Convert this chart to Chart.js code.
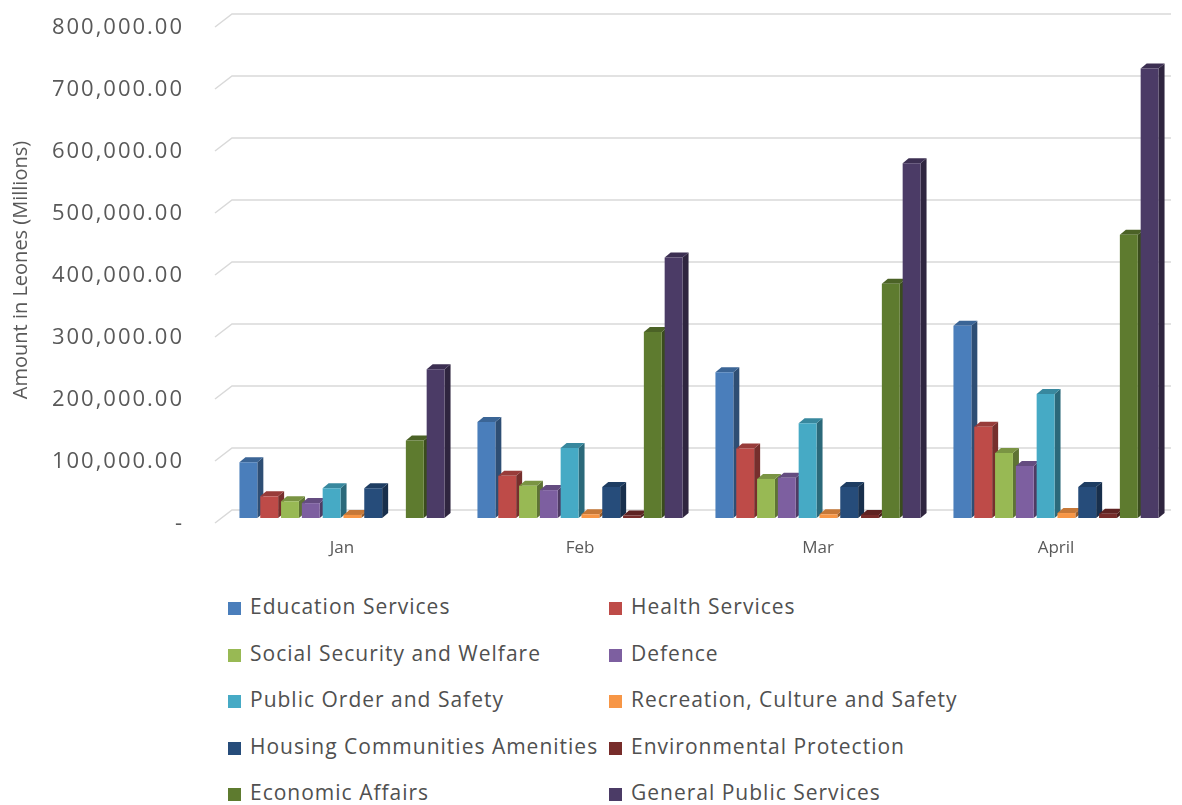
<!DOCTYPE html>
<html>
<head>
<meta charset="utf-8">
<script src="https://cdn.jsdelivr.net/npm/chart.js@4.4.1/dist/chart.umd.min.js"></script>
<style>
  html, body { margin:0; padding:0; background:#fff; }
  #wrap { position:relative; width:1182px; height:805px; overflow:hidden; }
  #chart { position:absolute; left:0; top:0; }
  #legend { position:absolute; left:228px; top:583px; width:950px;
            display:grid; grid-template-columns:381px 560px;
            font-family:"Open Sans", sans-serif; font-size:21px; letter-spacing:1px; color:#505050; }
  #legend .item { height:46.5px; line-height:46.5px; white-space:nowrap; }
  #legend .sw { display:inline-block; width:13px; height:13px; margin-right:9px; vertical-align:-1px; }
</style>
</head>
<body>
<div id="wrap">
  <canvas id="chart" width="1182" height="570"></canvas>
  <div id="legend"></div>
</div>
<script>
const categories    = ["Jan", "Feb", "Mar", "April"];
const seriesNames   = ["Education Services", "Health Services", "Social Security and Welfare", "Defence",
                       "Public Order and Safety", "Recreation, Culture and Safety", "Housing Communities Amenities",
                       "Environmental Protection", "Economic Affairs", "General Public Services"];
const education     = [90000, 155000, 235000, 310000];
const health        = [35000, 68000, 112000, 147000];
const socialSec     = [27000, 52000, 63000, 105000];
const defence       = [24000, 45000, 65000, 84000];
const publicOrder   = [48000, 113000, 153000, 200000];
const recreation    = [5000, 6000, 6000, 8000];
const housing       = [48000, 50000, 50000, 50000];
const environment   = [0, 4000, 5000, 7000];
const economic      = [125000, 300000, 378000, 457000];
const generalPublic = [240000, 420000, 572000, 725000];
const yTicks        = [0, 100000, 200000, 300000, 400000, 500000, 600000, 700000, 800000];

const colours = ["#4a7ebb", "#be4b48", "#98b954", "#7d5fa0", "#46aac5",
                 "#f79646", "#264c7a", "#772c2a", "#5e7b2f", "#4b3b66"];
const seriesData = [education, health, socialSec, defence, publicOrder,
                    recreation, housing, environment, economic, generalPublic];

const yLabel = v => v === 0 ? "-" : v.toLocaleString("en-US",{minimumFractionDigits:2, maximumFractionDigits:2});

function shade(hex, f){
  const n = parseInt(hex.slice(1),16);
  const r = Math.round(((n>>16)&255)*f), g = Math.round(((n>>8)&255)*f), b = Math.round((n&255)*f);
  return `rgb(${Math.min(r,255)},${Math.min(g,255)},${Math.min(b,255)})`;
}

/* back wall grid, y labels and fake 3d sides, drawn under the bar fronts */
const wall3d = {
  id:"wall3d",
  beforeDatasetsDraw(chart){
    const {ctx, chartArea, scales:{y}} = chart;
    ctx.save();
    ctx.strokeStyle = "#d9d9d9";
    ctx.lineWidth = 1.5;
    yTicks.forEach(v=>{
      const py = y.getPixelForValue(v) - 8;
      ctx.beginPath();
      ctx.moveTo(chartArea.left - 8, py + 13);
      ctx.lineTo(chartArea.left + 9, py);
      ctx.lineTo(chartArea.right - 4, py);
      ctx.stroke();
    });
    // tick labels (own drawing so the wide gap does not eat the plot height)
    ctx.fillStyle = "#595959";
    ctx.font = '22px "Open Sans"';
    ctx.letterSpacing = "2px";
    ctx.textAlign = "right";
    ctx.textBaseline = "middle";
    yTicks.forEach(v=>{
      ctx.fillText(yLabel(v), 184, y.getPixelForValue(v) + 6);
    });
    ctx.letterSpacing = "0px";

    const d = 6, dy = 5;
    chart.data.datasets.forEach((ds, i)=>{
      const meta = chart.getDatasetMeta(i);
      meta.data.forEach((bar, j)=>{
        if(!ds.data[j]) return;
        const l = bar.x - bar.width/2, r = bar.x + bar.width/2, t = bar.y, b = bar.base;
        ctx.fillStyle = shade(ds.backgroundColor, 0.62);
        ctx.beginPath();
        ctx.moveTo(r, t); ctx.lineTo(r+d, t-dy); ctx.lineTo(r+d, b-dy); ctx.lineTo(r, b);
        ctx.closePath(); ctx.fill();
        ctx.fillStyle = shade(ds.backgroundColor, 0.8);
        ctx.beginPath();
        ctx.moveTo(l, t); ctx.lineTo(l+d, t-dy); ctx.lineTo(r+d, t-dy); ctx.lineTo(r, t);
        ctx.closePath(); ctx.fill();
      });
    });
    ctx.restore();
  }
};

const chart = new Chart(document.getElementById("chart"), {
  type:"bar",
  data:{
    labels:categories,
    datasets:seriesNames.map((name,i)=>({
      label:name, data:seriesData[i], backgroundColor:colours[i],
      borderWidth:0, categoryPercentage:0.874, barPercentage:0.86
    }))
  },
  options:{
    responsive:false, animation:false,
    layout:{padding:{top:22, right:7, left:0, bottom:0}},
    plugins:{legend:{display:false}, tooltip:{enabled:false}},
    scales:{
      x:{
        grid:{display:false, drawTicks:false}, border:{display:false},
        ticks:{color:"#595959", padding:20, font:{family:"Open Sans", size:17}},
        afterFit(s){ s.height = 52; }
      },
      y:{
        min:0, max:800000,
        grid:{display:false, drawTicks:false}, border:{display:false},
        afterBuildTicks(s){ s.ticks = yTicks.map(v=>({value:v})); },
        ticks:{display:false},
        title:{display:true, text:"Amount in Leones (Millions)", color:"#595959",
               font:{family:"Open Sans", size:20}, padding:{top:9, bottom:0}},
        afterFit(s){ s.width = 223; }
      }
    }
  },
  plugins:[wall3d]
});

/* html legend in two columns */
const leg = document.getElementById("legend");
chart.data.datasets.forEach(ds=>{
  const it = document.createElement("div");
  it.className = "item";
  it.innerHTML = `<span class="sw" style="background:${ds.backgroundColor}"></span>${ds.label}`;
  leg.appendChild(it);
});
</script>
</body>
</html>
